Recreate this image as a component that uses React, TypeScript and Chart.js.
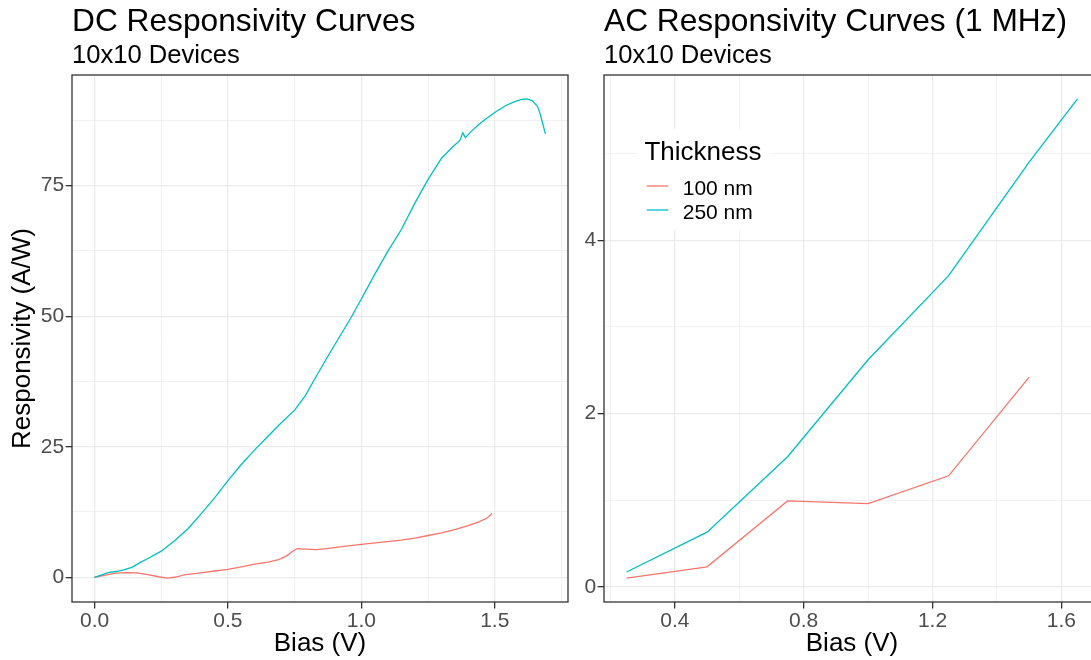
import React, { useEffect, useRef } from 'react';
import { Chart, registerables } from 'chart.js';

Chart.register(...registerables);

const FONT = '"Liberation Sans", Arial, Helvetica, sans-serif';
const RED = '#F8766D';
const CYAN = '#00BFC4';
const GRID = '#EBEBEB';
const DARK = '#333333';
const TICK_TEXT = '#4D4D4D';

const seriesNames = ['100 nm', '250 nm'];
const legendTitle = 'Thickness';

// ---- DC responsivity (10x10 devices) ----
const dcBias100 = [0, 0.04, 0.08, 0.12, 0.16, 0.2, 0.24, 0.27, 0.3, 0.34, 0.39, 0.45, 0.5, 0.55, 0.6, 0.65, 0.69, 0.72, 0.74, 0.76, 0.79, 0.83, 0.87, 0.92, 1.0, 1.07, 1.15, 1.2, 1.25, 1.3, 1.35, 1.4, 1.44, 1.47, 1.49];
const dcResp100 = [0, 0.4, 0.8, 0.9, 0.85, 0.5, 0.1, -0.15, 0, 0.5, 0.8, 1.2, 1.5, 2.0, 2.5, 2.9, 3.4, 4.1, 4.9, 5.5, 5.4, 5.3, 5.5, 5.8, 6.3, 6.7, 7.1, 7.5, 8.0, 8.5, 9.1, 9.9, 10.6, 11.3, 12.2];
const dcBias250 = [0, 0.03, 0.05, 0.08, 0.11, 0.14, 0.17, 0.2, 0.25, 0.3, 0.35, 0.4, 0.45, 0.5, 0.55, 0.6, 0.65, 0.7, 0.75, 0.79, 0.83, 0.88, 0.92, 0.96, 1.0, 1.05, 1.1, 1.15, 1.2, 1.25, 1.3, 1.34, 1.37, 1.38, 1.39, 1.41, 1.44, 1.47, 1.5, 1.54, 1.57, 1.6, 1.62, 1.64, 1.66, 1.67, 1.68, 1.69];
const dcResp250 = [0, 0.5, 0.9, 1.1, 1.4, 1.9, 2.8, 3.6, 5.0, 7.0, 9.3, 12.2, 15.2, 18.5, 21.6, 24.4, 27.0, 29.6, 32.0, 34.8, 38.4, 42.8, 46.2, 49.6, 53.3, 58.0, 62.5, 66.6, 71.6, 76.2, 80.2, 82.3, 83.7, 85.1, 84.2, 85.3, 86.7, 87.9, 89.0, 90.3, 91.0, 91.5, 91.6, 91.3, 90.2, 88.8, 86.8, 84.9];

// ---- AC responsivity at 1 MHz ----
const acBias100 = [0.25, 0.5, 0.75, 1.0, 1.25, 1.5];
const acResp100 = [0.1, 0.23, 0.99, 0.96, 1.28, 2.42];
const acBias250 = [0.25, 0.5, 0.75, 1.0, 1.25, 1.5, 1.65];
const acResp250 = [0.17, 0.63, 1.5, 2.62, 3.59, 4.9, 5.63];

// ---- ticks ----
const dcXMajor = [0, 0.5, 1.0, 1.5];
const dcXMinor = [0.25, 0.75, 1.25, 1.75];
const dcYMajor = [0, 25, 50, 75];
const dcYMinor = [12.5, 37.5, 62.5, 87.5];
const acXMajor = [0.4, 0.8, 1.2, 1.6];
const acXMinor = [0.2, 0.6, 1.0, 1.4];
const acYMajor = [0, 2, 4];
const acYMinor = [1, 3, 5];

const VIEW_H = 660;
const PLOT_BOTTOM = 602;

function expand(vals: number[], mult = 0.05): [number, number] {
  const lo = Math.min(...vals);
  const hi = Math.max(...vals);
  const pad = (hi - lo) * mult;
  return [lo - pad, hi + pad];
}

const isIn = (v: number, arr: number[]) => arr.some((m) => Math.abs(m - v) < 1e-9);

const toPoints = (xs: number[], ys: number[]) => xs.map((x, i) => ({ x, y: ys[i] }));

const bgPlugin = {
  id: 'bgWhite',
  beforeDraw(chart: any) {
    const { ctx, width, height } = chart;
    ctx.save();
    ctx.fillStyle = '#ffffff';
    ctx.fillRect(0, 0, width, height);
    ctx.restore();
  },
};

const borderPlugin = {
  id: 'panelBorder',
  afterDatasetsDraw(chart: any) {
    const { ctx, chartArea: a } = chart;
    ctx.save();
    ctx.strokeStyle = DARK;
    ctx.lineWidth = 1.3;
    ctx.strokeRect(a.left, a.top, a.right - a.left, a.bottom - a.top);
    ctx.restore();
  },
};

const legendPlugin = {
  id: 'insideLegend',
  afterDraw(chart: any) {
    const { ctx, chartArea: a } = chart;
    const x0 = a.left + 33;
    const y0 = a.top + 54;
    ctx.save();
    ctx.fillStyle = '#ffffff';
    ctx.fillRect(x0, y0, 133, 101);
    ctx.fillStyle = '#000000';
    ctx.textBaseline = 'alphabetic';
    ctx.textAlign = 'left';
    ctx.font = `26px ${FONT}`;
    ctx.fillText(legendTitle, x0 + 7.4, y0 + 31);
    ctx.font = `21px ${FONT}`;
    chart.data.datasets.forEach((ds: any, i: number) => {
      const ky = y0 + 57 + i * 24;
      ctx.strokeStyle = ds.borderColor;
      ctx.lineWidth = 1.3;
      ctx.beginPath();
      ctx.moveTo(x0 + 9.7, ky);
      ctx.lineTo(x0 + 31.3, ky);
      ctx.stroke();
      ctx.fillStyle = '#000000';
      ctx.fillText(ds.label, x0 + 45.7, ky + 8.7);
    });
    ctx.restore();
  },
};

type PanelProps = {
  left: number;
  width: number;
  title: string;
  subtitle: string;
  datasets: any[];
  xVals: number[];
  yVals: number[];
  xMajor: number[];
  xMinor: number[];
  yMajor: number[];
  yMinor: number[];
  xFmt: (v: number) => string;
  yFmt: (v: number) => string;
  yTitle?: string;
  yAxisWidth: number;
  showLegend?: boolean;
};

function Panel(p: PanelProps) {
  const ref = useRef<HTMLCanvasElement | null>(null);

  useEffect(() => {
    if (!ref.current) return;
    const [xmin, xmax] = expand(p.xVals);
    const [ymin, ymax] = expand(p.yVals);
    const xTicks = [...p.xMajor, ...p.xMinor].filter((v) => v >= xmin && v <= xmax).sort((a, b) => a - b);
    const yTicks = [...p.yMajor, ...p.yMinor].filter((v) => v >= ymin && v <= ymax).sort((a, b) => a - b);

    const gridFor = (major: number[]) => ({
      display: true,
      drawOnChartArea: true,
      drawTicks: true,
      tickLength: 6.4,
      color: GRID,
      lineWidth: (c: any) => (c.tick && isIn(c.tick.value, major) ? 1.3 : 0.7),
      tickColor: (c: any) => (c.tick && isIn(c.tick.value, major) ? DARK : 'rgba(0,0,0,0)'),
      tickWidth: 1.3,
    });

    const plugins: any[] = [bgPlugin, borderPlugin];
    if (p.showLegend) plugins.push(legendPlugin);

    const chart = new Chart(ref.current, {
      type: 'line',
      data: { datasets: p.datasets },
      plugins,
      options: {
        responsive: false,
        animation: false,
        events: [],
        layout: { padding: { left: 0, right: 12, top: 0, bottom: 0 } },
        elements: { point: { radius: 0 }, line: { tension: 0 } },
        plugins: {
          legend: { display: false },
          tooltip: { enabled: false },
          title: {
            display: true,
            text: p.title,
            align: 'start',
            fullSize: false,
            color: '#000000',
            font: { family: FONT, size: 31.7, weight: 'normal', lineHeight: 1.1 },
            padding: { top: 4.5, bottom: 0 },
          },
          subtitle: {
            display: true,
            text: p.subtitle,
            align: 'start',
            fullSize: false,
            color: '#000000',
            font: { family: FONT, size: 25.6, weight: 'normal', lineHeight: 1.1 },
            padding: { top: 2.25, bottom: 5.22 },
          },
        },
        scales: {
          x: {
            type: 'linear',
            min: xmin,
            max: xmax,
            afterBuildTicks: (s: any) => {
              s.ticks = xTicks.map((v) => ({ value: v }));
            },
            afterFit: (s: any) => {
              s.height = VIEW_H - PLOT_BOTTOM;
            },
            ticks: {
              autoSkip: false,
              maxRotation: 0,
              minRotation: 0,
              padding: 0,
              color: TICK_TEXT,
              font: { family: FONT, size: 21, lineHeight: 1.2 },
              callback: (v: any) => (isIn(Number(v), p.xMajor) ? p.xFmt(Number(v)) : ''),
            },
            grid: gridFor(p.xMajor),
            border: { display: false },
            title: {
              display: true,
              text: 'Bias (V)',
              color: '#000000',
              font: { family: FONT, size: 26, lineHeight: 1.2 },
              padding: { top: 0, bottom: 0.4 },
            },
          },
          y: {
            type: 'linear',
            min: ymin,
            max: ymax,
            afterBuildTicks: (s: any) => {
              s.ticks = yTicks.map((v) => ({ value: v }));
            },
            afterFit: (s: any) => {
              s.width = p.yAxisWidth;
            },
            ticks: {
              autoSkip: false,
              padding: 1.5,
              color: TICK_TEXT,
              font: { family: FONT, size: 21, lineHeight: 1.2 },
              callback: (v: any) => (isIn(Number(v), p.yMajor) ? p.yFmt(Number(v)) : ''),
            },
            grid: gridFor(p.yMajor),
            border: { display: false },
            title: {
              display: !!p.yTitle,
              text: p.yTitle || '',
              color: '#000000',
              font: { family: FONT, size: 26, lineHeight: 1.2 },
              padding: { top: 7.1, bottom: 0 },
            },
          },
        },
      } as any,
    });
    return () => chart.destroy();
  }, []);

  return (
    <div style={{ position: 'absolute', left: p.left, top: 0, width: p.width, height: VIEW_H }}>
      <canvas ref={ref} width={p.width} height={VIEW_H} style={{ display: 'block' }} />
    </div>
  );
}

export default function App() {
  const dcSets = [
    { label: seriesNames[0], data: toPoints(dcBias100, dcResp100), borderColor: RED, backgroundColor: RED, borderWidth: 1.3, order: 2 },
    { label: seriesNames[1], data: toPoints(dcBias250, dcResp250), borderColor: CYAN, backgroundColor: CYAN, borderWidth: 1.3, order: 1 },
  ];
  const acSets = [
    { label: seriesNames[0], data: toPoints(acBias100, acResp100), borderColor: RED, backgroundColor: RED, borderWidth: 1.3, order: 2 },
    { label: seriesNames[1], data: toPoints(acBias250, acResp250), borderColor: CYAN, backgroundColor: CYAN, borderWidth: 1.3, order: 1 },
  ];
  return (
    <div style={{ position: 'absolute', left: 0, top: 0, width: 1091, height: VIEW_H, overflow: 'hidden', background: '#ffffff' }}>
      <Panel
        left={0}
        width={580}
        title="DC Responsivity Curves"
        subtitle="10x10 Devices"
        datasets={dcSets}
        xVals={[...dcBias100, ...dcBias250]}
        yVals={[...dcResp100, ...dcResp250]}
        xMajor={dcXMajor}
        xMinor={dcXMinor}
        yMajor={dcYMajor}
        yMinor={dcYMinor}
        xFmt={(v) => v.toFixed(1)}
        yFmt={(v) => String(v)}
        yTitle="Responsivity (A/W)"
        yAxisWidth={72}
      />
      <Panel
        left={580}
        width={532}
        title="AC Responsivity Curves (1 MHz)"
        subtitle="10x10 Devices"
        datasets={acSets}
        xVals={[...acBias100, ...acBias250]}
        yVals={[...acResp100, ...acResp250]}
        xMajor={acXMajor}
        xMinor={acXMinor}
        yMajor={acYMajor}
        yMinor={acYMinor}
        xFmt={(v) => v.toFixed(1)}
        yFmt={(v) => String(v)}
        yAxisWidth={24}
        showLegend
      />
    </div>
  );
}
